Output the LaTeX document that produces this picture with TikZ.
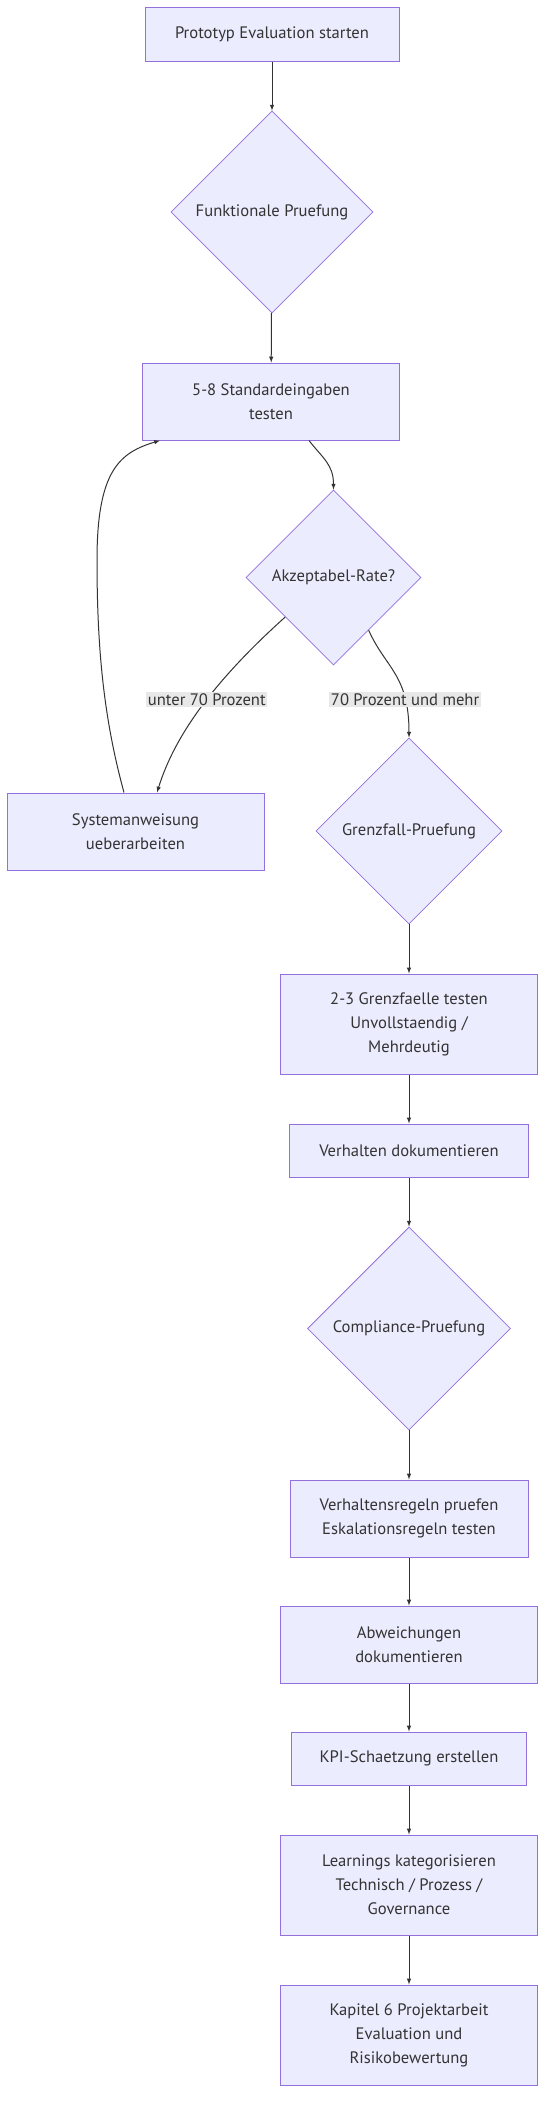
\documentclass[tikz,border=0pt]{standalone}
\usepackage{fontspec}
\setmainfont{PT Sans}
\usetikzlibrary{arrows,shapes.geometric,calc}

\definecolor{boxfill}{HTML}{ECECFF}
\definecolor{boxline}{HTML}{9370DB}
\definecolor{edgecol}{HTML}{333333}
\definecolor{lblfill}{HTML}{E8E8E8}

\tikzset{
  stepbox/.style={draw=boxline, fill=boxfill, line width=1pt, inner sep=0pt, align=center, text=edgecol},
  checkbox/.style={diamond, aspect=1, draw=boxline, fill=boxfill, line width=0.8pt, inner sep=0pt, align=center, text=edgecol},
  flow/.style={draw=edgecol, line width=1pt, -latex},
  lbl/.style={fill=lblfill, text=edgecol, inner sep=1.5pt}
}

\begin{document}
\begin{tikzpicture}[x=1pt, y=-1pt, font=\fontsize{16.6}{24}\selectfont]

    \useasboundingbox (0,0) rectangle (553,2123);

    \node[stepbox, minimum width=254, minimum height=54] (start) at (272,34) {Prototyp Evaluation starten};
    \node[checkbox, minimum size=202] (funk) at (272,212) {Funktionale Pruefung};
    \node[stepbox, minimum width=257, minimum height=77] (std) at (271,401.5) {5-8 Standardeingaben\\testen};
    \node[checkbox, minimum size=175] (rate) at (333.5,577.5) {Akzeptabel-Rate?};
    \node[stepbox, minimum width=257, minimum height=77] (sys) at (135.5,831.5) {Systemanweisung\\ueberarbeiten};
    \node[checkbox, minimum size=186] (grenz) at (409,831) {Grenzfall-Pruefung};
    \node[stepbox, minimum width=257, minimum height=100] (gtest) at (409,1024) {2-3 Grenzfaelle testen\\Unvollstaendig /\\Mehrdeutig};
    \node[stepbox, minimum width=239, minimum height=53] (doku) at (409,1150.5) {Verhalten dokumentieren};
    \node[checkbox, minimum size=203] (comp) at (409,1328.5) {Compliance-Pruefung};
    \node[stepbox, minimum width=238, minimum height=77] (regeln) at (409,1518.5) {Verhaltensregeln pruefen\\Eskalationsregeln testen};
    \node[stepbox, minimum width=257, minimum height=77] (abw) at (409,1644.5) {Abweichungen\\dokumentieren};
    \node[stepbox, minimum width=235, minimum height=53] (kpi) at (409,1758.5) {KPI-Schaetzung erstellen};
    \node[stepbox, minimum width=257, minimum height=100] (learn) at (409,1885) {Learnings kategorisieren\\Technisch / Prozess /\\Governance};
    \node[stepbox, minimum width=257, minimum height=100] (kap) at (409,2035) {Kapitel 6 Projektarbeit\\Evaluation und\\Risikobewertung};

    \draw[flow] (start) -- (funk);
    \draw[flow] (funk) -- (std);
    \draw[flow] ([xshift=38pt]std.south) .. controls +(14,18) and +(0,-25) .. (rate.north);
    \draw[flow] ($(rate.south)!0.55!(rate.west)$) .. controls +(-70,63) and +(18,-58) .. node[lbl, pos=0.46] {unter 70 Prozent} ([xshift=21.5pt]sys.north);
    \draw[flow] ($(rate.south)!0.4!(rate.east)$) .. controls +(17,38) and +(0,-63) .. node[lbl, pos=0.75] {70 Prozent und mehr} (grenz.north);
    \draw[flow] ([xshift=-11.5pt]sys.north) .. controls +(-20,-73) and +(0,90) .. (97,560) .. controls +(0,-90) and +(-40,12) .. ([xshift=-111pt]std.south);
    \draw[flow] (grenz) -- (gtest);
    \draw[flow] (gtest) -- (doku);
    \draw[flow] (doku) -- (comp);
    \draw[flow] (comp) -- (regeln);
    \draw[flow] (regeln) -- (abw);
    \draw[flow] (abw) -- (kpi);
    \draw[flow] (kpi) -- (learn);
    \draw[flow] (learn) -- (kap);
\end{tikzpicture}
\end{document}
